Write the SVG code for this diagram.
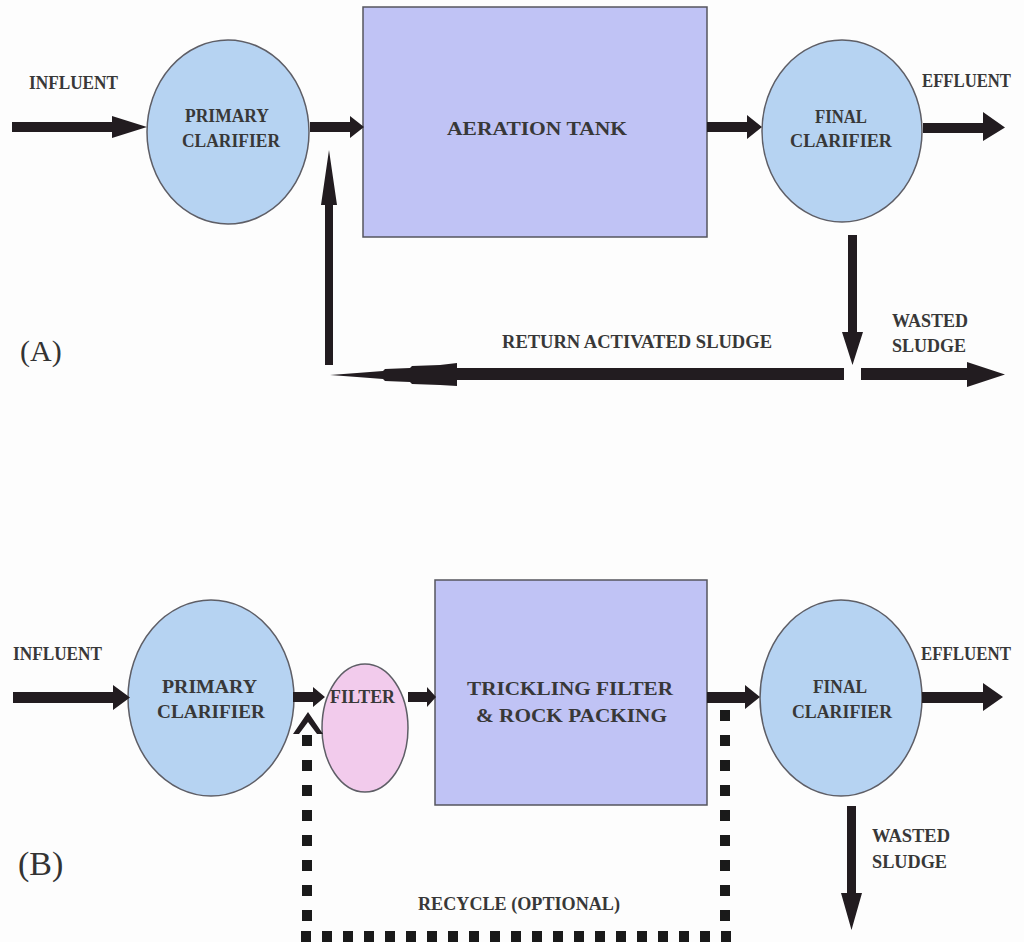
<svg xmlns="http://www.w3.org/2000/svg" width="1024" height="942" viewBox="0 0 1024 942">
<style>
.bg{fill:#fdfdfd}
.clar{fill:#b6d3f2;stroke:#5e5e66;stroke-width:1.5}
.tank{fill:#c0c3f5;stroke:#55555e;stroke-width:1.5}
.filt{fill:#f2cbec;stroke:#5e5e66;stroke-width:1.5}
.arr{fill:#221c20}
.dash{stroke:#1a1a1a;fill:none}
.lbl{font-family:"Liberation Serif","Times New Roman",serif;font-weight:bold;fill:#383838;font-size:19.5px}
.pl{font-family:"Liberation Serif","Times New Roman",serif;fill:#333;}
</style>
<rect class="bg" x="0" y="0" width="1024" height="942"/>

<g id="panel-a-label"><text class="pl" x="20" y="361" font-size="30">(A)</text></g>
<g id="panel-b-label"><text class="pl" x="18" y="875" font-size="34">(B)</text></g>

<g id="a-influent"><text class="lbl" x="29" y="89" font-size="20" textLength="89" lengthAdjust="spacingAndGlyphs">INFLUENT</text></g>
<g id="a-primary-clarifier">
<ellipse class="clar" cx="228" cy="132" rx="81" ry="92"/>
<text class="lbl" x="185" y="122" textLength="84" lengthAdjust="spacingAndGlyphs">PRIMARY</text>
<text class="lbl" x="182" y="147" textLength="98" lengthAdjust="spacingAndGlyphs">CLARIFIER</text>
</g>
<g id="a-aeration-tank">
<rect class="tank" x="363" y="7" width="344" height="230"/>
<text class="lbl" x="447" y="135" font-size="23" textLength="180" lengthAdjust="spacingAndGlyphs">AERATION TANK</text>
</g>
<g id="a-final-clarifier">
<ellipse class="clar" cx="842" cy="131" rx="80" ry="91"/>
<text class="lbl" x="815" y="123" textLength="52" lengthAdjust="spacingAndGlyphs">FINAL</text>
<text class="lbl" x="790" y="147" textLength="102" lengthAdjust="spacingAndGlyphs">CLARIFIER</text>
</g>
<g id="a-effluent"><text class="lbl" x="922" y="87" font-size="20" textLength="89" lengthAdjust="spacingAndGlyphs">EFFLUENT</text></g>
<g id="a-return-label"><text class="lbl" x="502" y="348" textLength="270" lengthAdjust="spacingAndGlyphs">RETURN ACTIVATED SLUDGE</text></g>
<g id="a-wasted-label">
<text class="lbl" x="892" y="327" textLength="76" lengthAdjust="spacingAndGlyphs">WASTED</text>
<text class="lbl" x="892" y="352" textLength="74" lengthAdjust="spacingAndGlyphs">SLUDGE</text>
</g>

<g id="b-influent"><text class="lbl" x="13" y="660" font-size="20" textLength="89" lengthAdjust="spacingAndGlyphs">INFLUENT</text></g>
<g id="b-primary-clarifier">
<ellipse class="clar" cx="211" cy="698" rx="83" ry="98"/>
<text class="lbl" x="162" y="693" font-size="21" textLength="95" lengthAdjust="spacingAndGlyphs">PRIMARY</text>
<text class="lbl" x="157" y="718" font-size="21" textLength="108" lengthAdjust="spacingAndGlyphs">CLARIFIER</text>
</g>
<g id="b-filter">
<ellipse class="filt" cx="365" cy="728" rx="43" ry="64"/>
<text class="lbl" x="330" y="703" font-size="20" textLength="65" lengthAdjust="spacingAndGlyphs">FILTER</text>
</g>
<g id="b-trickling-filter">
<rect class="tank" x="435" y="580" width="272" height="225"/>
<text class="lbl" x="467" y="695" font-size="22" textLength="206" lengthAdjust="spacingAndGlyphs">TRICKLING FILTER</text>
<text class="lbl" x="476" y="722" font-size="22" textLength="191" lengthAdjust="spacingAndGlyphs">&amp; ROCK PACKING</text>
</g>
<g id="b-final-clarifier">
<ellipse class="clar" cx="841" cy="698" rx="81" ry="98"/>
<text class="lbl" x="813" y="693" font-size="20" textLength="54" lengthAdjust="spacingAndGlyphs">FINAL</text>
<text class="lbl" x="792" y="718" font-size="20" textLength="100" lengthAdjust="spacingAndGlyphs">CLARIFIER</text>
</g>
<g id="b-effluent"><text class="lbl" x="921" y="660" font-size="20" textLength="90" lengthAdjust="spacingAndGlyphs">EFFLUENT</text></g>
<g id="b-wasted-label">
<text class="lbl" x="872" y="842" textLength="78" lengthAdjust="spacingAndGlyphs">WASTED</text>
<text class="lbl" x="872" y="868" textLength="75" lengthAdjust="spacingAndGlyphs">SLUDGE</text>
</g>
<g id="b-recycle-label"><text class="lbl" x="418" y="910" textLength="202" lengthAdjust="spacingAndGlyphs">RECYCLE (OPTIONAL)</text></g>

<g id="connectors">
<path class="arr" d="M12,122 H112 V116 L147,127 L112,138 V132 H12 Z"/>
<path class="arr" d="M310,122 H350 V116 L364,127 L350,138 V132 H310 Z"/>
<path class="arr" d="M707,122 H747 V115 L762,127 L747,139 V132 H707 Z"/>
<path class="arr" d="M923,123 H983 V112 L1005,127.5 L983,141 V133 H923 Z"/>
<path class="arr" d="M325,365 V205 H321 L329,150 L337,205 H333 V365 Z"/>
<path class="arr" d="M844,368 H457 V363 L440,365 L412,366 L410,368 L385,369 L383,371 L357,373 L330,375 L357,377 L383,379 L385,381 L410,382 L412,384 L440,385 L457,386 V380 H844 Z"/>
<path class="arr" d="M848,235 H857 V332 H863 L852.5,365 L842,332 H848 Z"/>
<path class="arr" d="M861,368 H967 V362 L1005,374.5 L967,387 V380 H861 Z"/>
<path class="arr" d="M13,692 H113 V685 L130,697.5 L113,710 V703 H13 Z"/>
<path class="arr" d="M293,692 H313 V687 L325,697 L313,707 V702 H293 Z"/>
<path class="arr" d="M408,692 H427 V687 L436,697 L427,707 V702 H408 Z"/>
<path class="arr" d="M707,692 H745 V685 L760,697 L745,709 V703 H707 Z"/>
<path class="arr" d="M922,692 H983 V683 L1003,697 L983,711 V703 H922 Z"/>
<path class="arr" d="M847,806 H856 V893 H862 L851.5,930 L841,893 H847 Z"/>
<path class="arr" d="M293,734 L308,712 L323,734 L317,734 L308,722 L299,734 Z"/>
<line class="dash" x1="307" y1="735" x2="307" y2="922" stroke-width="10" stroke-dasharray="11 14"/>
<line class="dash" x1="725" y1="710" x2="725" y2="922" stroke-width="10" stroke-dasharray="11 14"/>
<line class="dash" x1="301" y1="936.5" x2="731" y2="936.5" stroke-width="11" stroke-dasharray="10 11"/>
</g>
</svg>
